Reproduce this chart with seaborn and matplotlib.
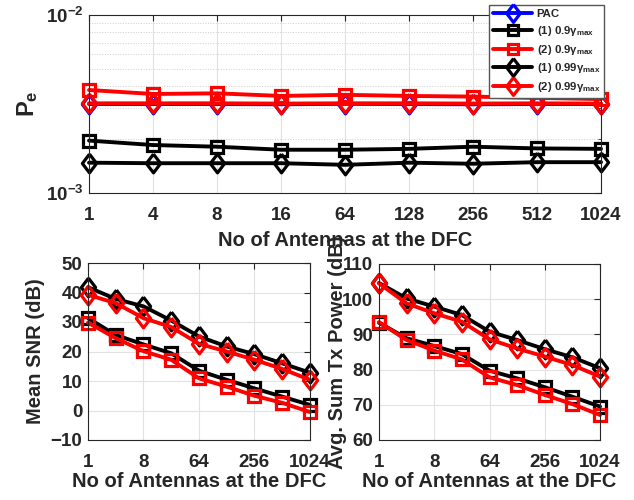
import numpy as np
import pandas as pd
import seaborn as sns
import matplotlib.pyplot as plt
from matplotlib.ticker import FixedLocator, LogLocator, NullFormatter

# data
antennas = [1, 4, 8, 16, 64, 128, 256, 512, 1024]
bottom_ticks = [1, 8, 64, 256, 1024]

# error probability
pe_pac = [3.16e-3, 3.16e-3, 3.16e-3, 3.15e-3, 3.17e-3, 3.16e-3, 3.15e-3, 3.16e-3, 3.16e-3]
pe_1_09 = [1.97e-3, 1.86e-3, 1.82e-3, 1.75e-3, 1.75e-3, 1.77e-3, 1.82e-3, 1.78e-3, 1.77e-3]
pe_2_09 = [3.79e-3, 3.60e-3, 3.63e-3, 3.51e-3, 3.56e-3, 3.51e-3, 3.48e-3, 3.42e-3, 3.37e-3]
pe_1_099 = [1.48e-3, 1.47e-3, 1.47e-3, 1.47e-3, 1.44e-3, 1.48e-3, 1.46e-3, 1.49e-3, 1.49e-3]
pe_2_099 = [3.19e-3, 3.19e-3, 3.19e-3, 3.18e-3, 3.19e-3, 3.19e-3, 3.18e-3, 3.19e-3, 3.18e-3]

# mean SNR (dB)
snr_1_09 = [31.3, 25.6, 22.4, 19.4, 13.5, 10.4, 7.5, 4.7, 1.9]
snr_2_09 = [29.8, 24.5, 20.1, 17.2, 10.9, 8.1, 5.0, 2.6, -0.5]
snr_1_099 = [41.8, 37.8, 35.3, 30.5, 25.1, 21.7, 19.1, 16.0, 12.8]
snr_2_099 = [39.2, 36.4, 31.3, 28.3, 22.6, 20.0, 17.2, 14.1, 10.4]

# avg sum tx power (dB)
pw_1_09 = [93.3, 88.9, 86.7, 84.4, 79.7, 77.5, 75.0, 72.3, 69.5]
pw_2_09 = [93.5, 88.4, 85.4, 82.9, 77.8, 75.6, 72.8, 70.2, 67.1]
pw_1_099 = [104.6, 100.2, 97.9, 95.5, 90.8, 88.4, 85.8, 83.5, 80.4]
pw_2_099 = [104.5, 98.8, 96.0, 93.6, 88.6, 86.0, 83.7, 81.3, 78.0]

labels = ['PAC', r'(1) 0.9$\gamma_{\mathbf{max}}$', r'(2) 0.9$\gamma_{\mathbf{max}}$',
          r'(1) 0.99$\gamma_{\mathbf{max}}$', r'(2) 0.99$\gamma_{\mathbf{max}}$']
colors = ['#0000ff', '#000000', '#ff0000', '#000000', '#ff0000']
# matlab style diamond is a bit taller than wide
diamond = [(0, 1), (0.76, 0), (0, -1), (-0.76, 0), (0, 1)]
markers = [diamond, 's', 's', diamond, diamond]

sns.set_style('white')
plt.rcParams['font.family'] = ['Liberation Sans', 'DejaVu Sans']
plt.rcParams['font.weight'] = 'bold'
plt.rcParams['mathtext.fontset'] = 'custom'
plt.rcParams['mathtext.rm'] = 'Liberation Sans:bold'
plt.rcParams['mathtext.bf'] = 'Liberation Sans:bold'
plt.rcParams['mathtext.it'] = 'Liberation Sans:bold'

txt = '#262626'
grid_c = '#e2e2e2'
xpos = np.arange(len(antennas))

fig = plt.figure(figsize=(6.34, 5.0), dpi=100)
ax_top = fig.add_axes([0.1404, 0.614, 0.8076, 0.356])
ax_snr = fig.add_axes([0.1388, 0.12, 0.350, 0.354])
ax_pw = fig.add_axes([0.5978, 0.12, 0.3486, 0.352])


def draw(ax, series, cols, marks, labs=None):
    for i, vals in enumerate(series):
        ms = 8.2 if marks[i] == 's' else 13.5
        sns.lineplot(x=xpos, y=vals, ax=ax, color=cols[i], marker=marks[i],
                     markersize=ms, markerfacecolor='none', markeredgecolor=cols[i],
                     markeredgewidth=2.3, linewidth=2.8, clip_on=False,
                     label=(labs[i] if labs else None), legend=False)


def style_axes(ax):
    for s in ax.spines.values():
        s.set_color(txt)
        s.set_linewidth(0.8)
    ax.tick_params(direction='in', which='both', top=True, right=True,
                   colors=txt, labelsize=13.5, length=4)
    ax.tick_params(axis='x', pad=10)
    ax.tick_params(axis='y', pad=4)
    for t in ax.get_xticklabels() + ax.get_yticklabels():
        t.set_fontweight('bold')
    ax.set_xlim(0, len(antennas) - 1)


# top panel: error probability
draw(ax_top, [pe_pac, pe_1_09, pe_2_09, pe_1_099, pe_2_099], colors, markers, labels)
ax_top.set_yscale('log')
ax_top.set_ylim(1e-3, 1e-2)
ax_top.yaxis.set_major_locator(FixedLocator([1e-3, 1e-2]))
ax_top.set_yticklabels([r'$\mathbf{10^{-3}}$', r'$\mathbf{10^{-2}}$'])
ax_top.yaxis.set_minor_locator(LogLocator(base=10, subs=np.arange(2, 10)))
ax_top.yaxis.set_minor_formatter(NullFormatter())
ax_top.set_xticks(xpos)
ax_top.set_xticklabels([str(a) for a in antennas])
ax_top.xaxis.grid(True, which='major', color=grid_c, lw=0.8)
ax_top.yaxis.grid(True, which='minor', color='#cfcfcf', lw=0.7, linestyle=':')
style_axes(ax_top)
ax_top.tick_params(axis='y', which='minor', length=2.5)
ax_top.set_xlabel('No of Antennas at the DFC', fontsize=14.5, fontweight='bold', color=txt)
ax_top.set_ylabel(r'$\mathbf{P_e}$', fontsize=17, color=txt)
ax_top.yaxis.set_label_coords(-0.095, 0.5)
ax_top.xaxis.set_label_coords(0.5, -0.215)

leg = ax_top.legend(loc='upper right', bbox_to_anchor=(604 / 634, 1 - 5 / 500),
                    bbox_transform=fig.transFigure, borderaxespad=0, fontsize=8.2,
                    frameon=True, fancybox=False, handlelength=3.4, labelspacing=0.42,
                    borderpad=0.35, handletextpad=0.4, framealpha=1, markerscale=0.95)
leg.get_frame().set_edgecolor('#555555')
leg.get_frame().set_linewidth(1.0)
for t in leg.get_texts():
    t.set_fontweight('bold')
    t.set_color(txt)

# bottom panels
sub_cols = colors[1:]
sub_marks = markers[1:]
tick_idx = [antennas.index(a) for a in bottom_ticks]

draw(ax_snr, [snr_1_09, snr_2_09, snr_1_099, snr_2_099], sub_cols, sub_marks)
ax_snr.set_ylim(-10, 50)
ax_snr.set_yticks(range(-10, 51, 10))

draw(ax_pw, [pw_1_09, pw_2_09, pw_1_099, pw_2_099], sub_cols, sub_marks)
ax_pw.set_ylim(60, 110)
ax_pw.set_yticks(range(60, 111, 10))

for ax in (ax_snr, ax_pw):
    ax.set_xticks(tick_idx)
    ax.set_xticklabels([str(a) for a in bottom_ticks])
    ax.grid(True, color=grid_c, lw=0.8)
    style_axes(ax)
    ax.set_xlabel('No of Antennas at the DFC', fontsize=14.5, fontweight='bold', color=txt)
    ax.xaxis.set_label_coords(0.5, -0.18)

ax_snr.set_ylabel('Mean SNR (dB)', fontsize=14.5, fontweight='bold', color=txt)
ax_snr.yaxis.set_label_coords(-0.194, 0.5)
ax_pw.set_ylabel('Avg. Sum Tx Power (dB)', fontsize=14.5, fontweight='bold', color=txt)
ax_pw.yaxis.set_label_coords(-0.145, 0.5)

fig.savefig('out.png', dpi=100)
